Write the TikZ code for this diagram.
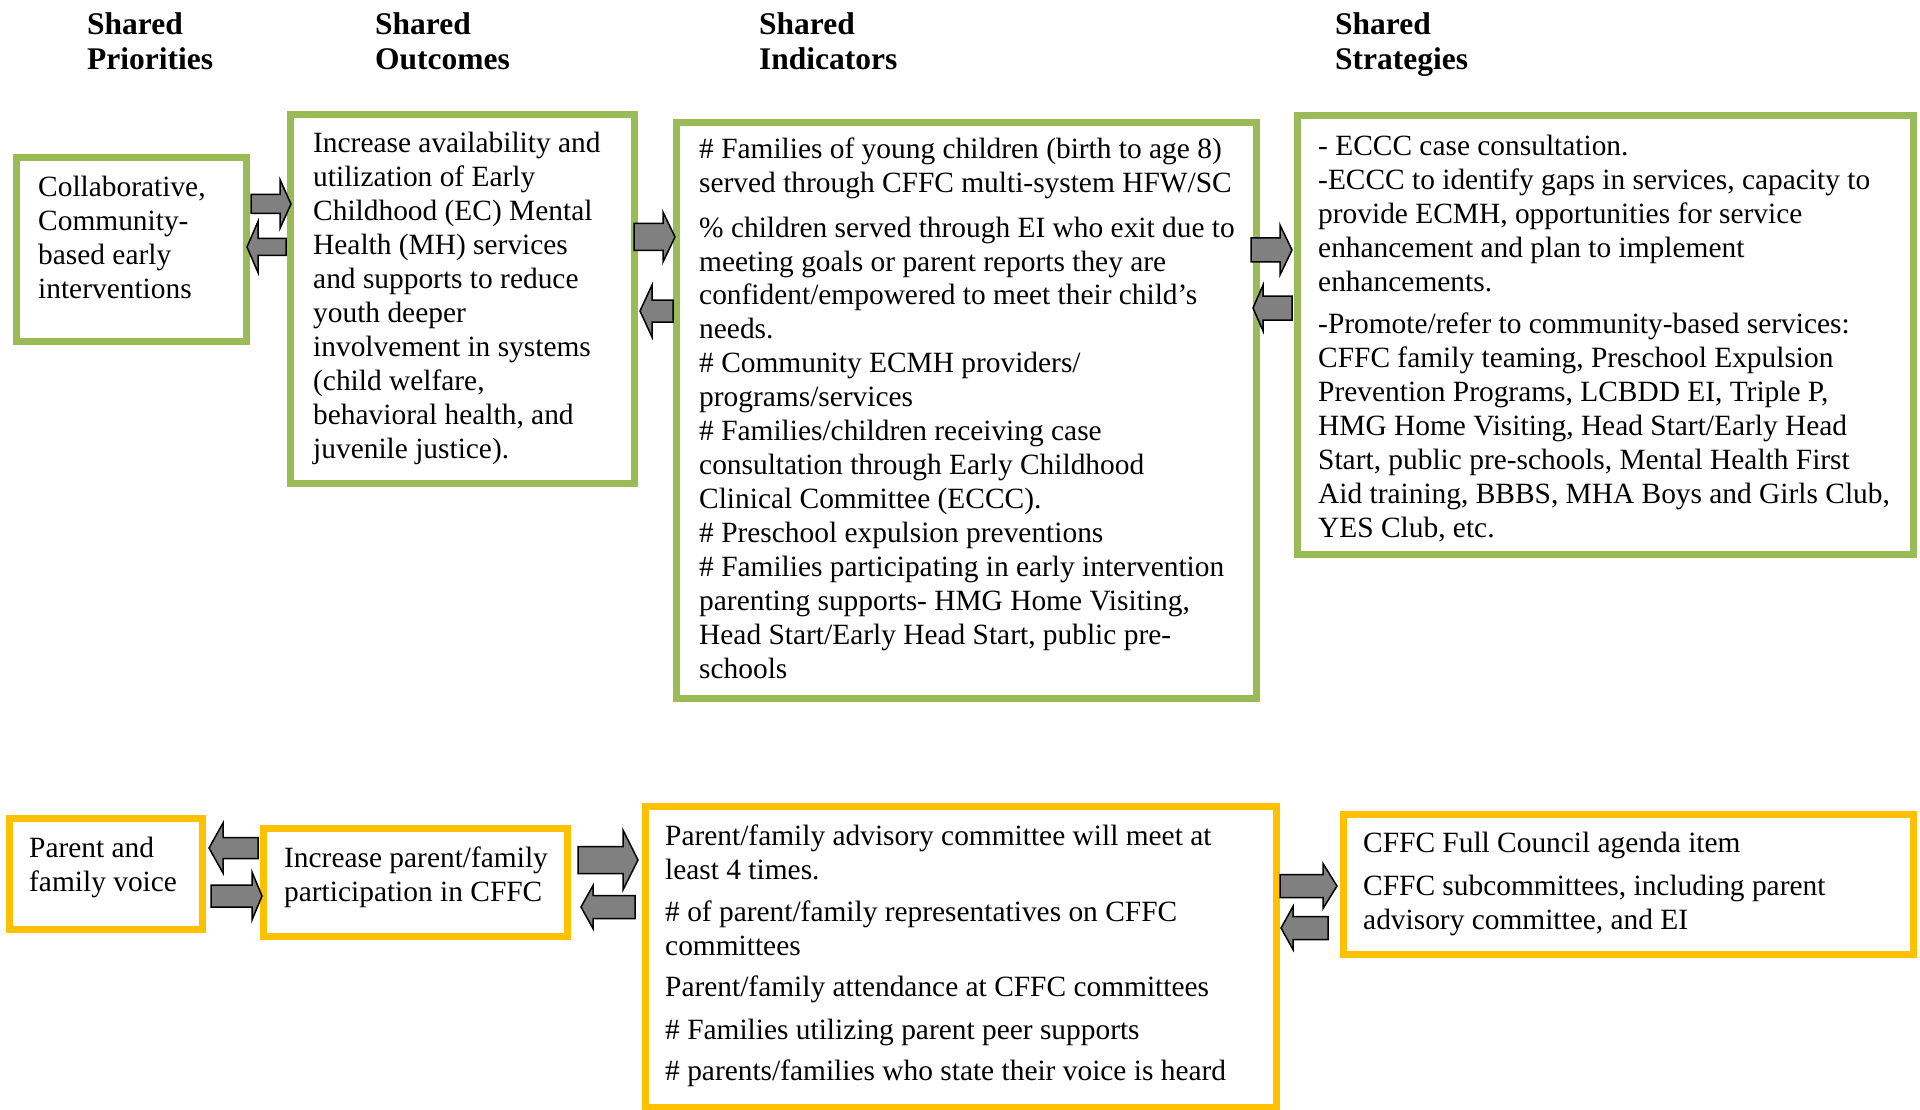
\documentclass[tikz,border=0pt]{standalone}
\usepackage{fontspec}
\setmainfont{Liberation Serif}
\definecolor{ggreen}{HTML}{9BBB59}
\definecolor{gyellow}{HTML}{FFC000}
\definecolor{agray}{HTML}{808080}
\tikzset{
  gbox/.style={draw=ggreen, line width=7pt, inner sep=0pt},
  ybox/.style={draw=gyellow, line width=7pt, inner sep=0pt},
  body/.style={anchor=base west, inner sep=0pt, font=\fontsize{29.4}{34}\selectfont},
  headtxt/.style={anchor=base west, inner sep=0pt, font=\fontsize{31.5}{34.5}\selectfont\bfseries},
  blk/.style={fill=agray, draw=black, line width=1.5pt, line join=miter}
}
\newcommand\toplines[1]{\begin{tabular}[t]{@{}l@{}}#1\end{tabular}}
\newcommand\blkarrow[6]{% tail, base, tip, yc, shaft half, head half
  \draw[blk] (#1,#4-#5) -- (#2,#4-#5) -- (#2,#4-#6) -- (#3,#4) -- (#2,#4+#6) -- (#2,#4+#5) -- (#1,#4+#5) -- cycle;}
\begin{document}
\begin{tikzpicture}[x=1pt,y=-1pt]
\useasboundingbox[fill=white] (0,0) rectangle (1920,1110);

% headings
\node[headtxt] (h1) at (87,35) {\toplines{Shared\\Priorities}};
\node[headtxt] (h2) at (375,35) {\toplines{Shared\\Outcomes}};
\node[headtxt] (h3) at (759,35) {\toplines{Shared\\Indicators}};
\node[headtxt] (h4) at (1335,35) {\toplines{Shared\\Strategies}};

% green boxes
\node[gbox, minimum width=230pt, minimum height=184pt] (g1) at (131.5,249.5) {};
\node[gbox, minimum width=344pt, minimum height=369pt] (g2) at (462.5,299) {};
\node[gbox, minimum width=579.5pt, minimum height=576pt] (g3) at (966.25,410.5) {};
\node[gbox, minimum width=616pt, minimum height=439pt] (g4) at (1605.5,335) {};

% yellow boxes
\node[ybox, minimum width=193pt, minimum height=111pt] (y1) at (106,874) {};
\node[ybox, minimum width=304pt, minimum height=108pt] (y2) at (415.5,882.5) {};
\node[ybox, minimum width=631pt, minimum height=301pt] (y3) at (961,957) {};
\node[ybox, minimum width=570pt, minimum height=140pt] (y4) at (1628.5,884.5) {};

% texts green row
\node[body] (t1) at (38,197) {\toplines{Collaborative,\\Community-\\based early\\interventions}};
\node[body] (t2) at (313,153) {\toplines{Increase availability and\\utilization of Early\\Childhood (EC) Mental\\Health (MH) services\\and supports to reduce\\youth deeper\\involvement in systems\\(child welfare,\\behavioral health, and\\juvenile justice).}};
\node[body] (t3a) at (699,159) {\toplines{\# Families of young children (birth to age 8)\\served through CFFC multi-system HFW/SC}};
\node[body] (t3b) at (699,237) {\toplines{\% children served through EI who exit due to\\meeting goals or parent reports they are\\confident/empowered to meet their child’s\\needs.\\\# Community ECMH providers/\\programs/services\\\# Families/children receiving case\\consultation through Early Childhood\\Clinical Committee (ECCC).\\\# Preschool expulsion preventions\\\# Families participating in early intervention\\parenting supports- HMG Home Visiting,\\Head Start/Early Head Start, public pre-\\schools}};
\node[body] (t4a) at (1318,156) {\toplines{- ECCC case consultation.\\-ECCC to identify gaps in services, capacity to\\provide ECMH, opportunities for service\\enhancement and plan to implement\\enhancements.}};
\node[body] (t4b) at (1318,333) {\toplines{-Promote/refer to community-based services:\\CFFC family teaming, Preschool Expulsion\\Prevention Programs, LCBDD EI, Triple P,\\HMG Home Visiting, Head Start/Early Head\\Start, public pre-schools, Mental Health First\\Aid training, BBBS, MHA Boys and Girls Club,\\YES Club, etc.}};

% texts yellow row
\node[body] (u1) at (29,857) {\toplines{Parent and\\family voice}};
\node[body] (u2) at (284,867) {\toplines{Increase parent/family\\participation in CFFC}};
\node[body] (u3a) at (665,845) {\toplines{Parent/family advisory committee will meet at\\least 4 times.}};
\node[body] (u3b) at (665,921) {\toplines{\# of parent/family representatives on CFFC\\committees}};
\node[body] (u3c) at (665,996) {Parent/family attendance at CFFC committees};
\node[body] (u3d) at (665,1039) {\# Families utilizing parent peer supports};
\node[body] (u3e) at (665,1080) {\# parents/families who state their voice is heard};
\node[body] (u4a) at (1363,852) {CFFC Full Council agenda item};
\node[body] (u4b) at (1363,895) {\toplines{CFFC subcommittees, including parent\\advisory committee, and EI}};

% block arrows: tail, base, tip, yc, shaft half, head half
\blkarrow{251}{280}{291}{204}{9.5}{24.5}
\blkarrow{286}{258}{247}{247}{8.5}{25.5}
\blkarrow{634}{663}{675}{237}{13.5}{25}
\blkarrow{673}{652}{640}{311}{11}{26}
\blkarrow{1251}{1280}{1292}{250}{12}{25}
\blkarrow{1292}{1263}{1253}{308}{12}{23}
\blkarrow{258}{223}{209}{848}{10.5}{25}
\blkarrow{211}{252}{262}{896}{11}{24}
\blkarrow{578}{623}{638}{860}{13.5}{30}
\blkarrow{635}{593}{581}{907}{11.5}{21.5}
\blkarrow{1280}{1323}{1337}{886}{11.5}{22.5}
\blkarrow{1328}{1293}{1281}{928}{11.5}{21.5}
\end{tikzpicture}
\end{document}
